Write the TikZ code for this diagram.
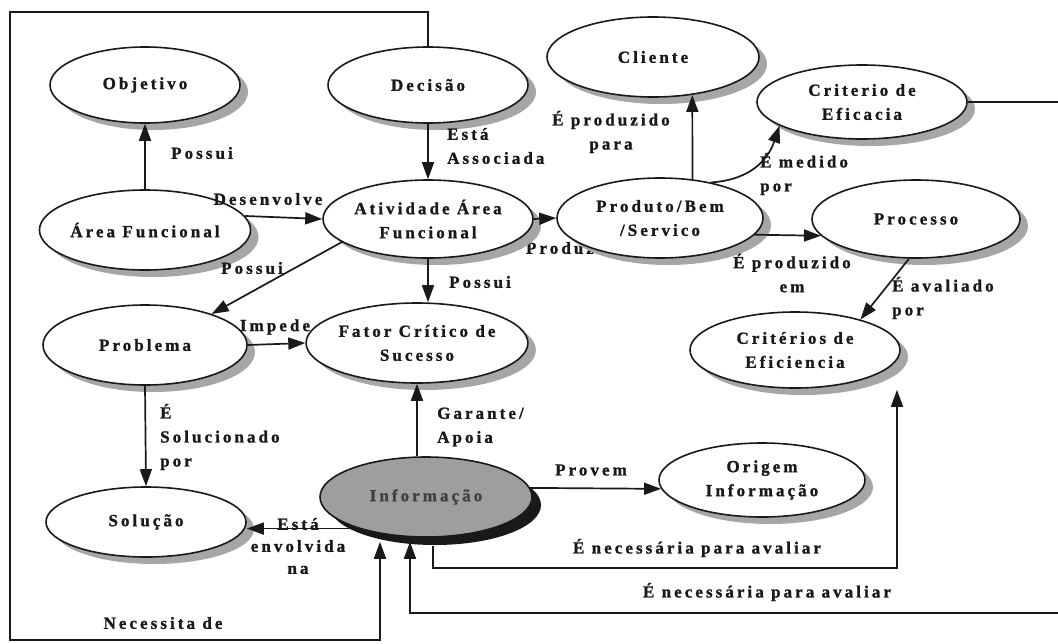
\documentclass[tikz,border=0pt]{standalone}
\usepackage{fontspec}
\newfontfamily\lbl[LetterSpace=18, BoldFeatures={FakeBold=1.2}]{Liberation Serif}
\newcommand\lblfont{\lbl\bfseries\fontsize{17}{24}\selectfont}
\usetikzlibrary{arrows.meta,shapes.geometric,shadows,calc}
\pgfdeclarelayer{bg}
\pgfsetlayers{bg,main}
\begin{document}
\begin{tikzpicture}[x=1pt,y=-1pt,
  ell/.style={ellipse, draw=black!90, line width=1.6pt, fill=white, inner sep=0pt,
    font=\lblfont, text=black!90, align=center,
    drop shadow={shadow xshift=8pt, shadow yshift=-7pt, fill=black!35, opacity=1}},
  infoell/.style={ellipse, draw=black!90, line width=1.6pt, fill=black!38, inner sep=0pt,
    font=\lblfont, text=black!75, align=center,
    drop shadow={shadow xshift=9pt, shadow yshift=-8pt, fill=black!90, opacity=1}},
  arr/.style={line width=1.7pt, draw=black!90, -{Triangle[length=17pt,width=12pt]}},
  lab/.style={font=\lblfont, text=black!90, inner sep=0pt}]
\useasboundingbox (0,0) rectangle (1058,643);
\begin{pgfonlayer}{bg}
\fill[white] (0,0) rectangle (1058,643);
\end{pgfonlayer}
\clip (0,0) rectangle (1058,643);

% nodes
\node[ell, minimum width=190pt, minimum height=76pt] (obj) at (145,85) {Objetivo};
\node[ell, minimum width=200pt, minimum height=76pt] (dec) at (428,85) {Decisão};
\node[ell, minimum width=212pt, minimum height=80pt] (cli) at (653,57) {Cliente};
\node[ell, minimum width=210pt, minimum height=74pt] (crit) at (862,102) {Criterio de\\Eficacia};
\node[ell, minimum width=196pt, minimum height=80pt] (area) at (145,230) {Área Funcional};
\node[ell, minimum width=210pt, minimum height=78pt] (ativ) at (428,219) {Atividade Área\\Funcional};
\node[ell, minimum width=206pt, minimum height=80pt] (prod) at (660,218) {Produto/Bem\\/Servico};
\node[ell, minimum width=208pt, minimum height=78pt] (proc) at (916,219) {Processo};
\node[ell, minimum width=204pt, minimum height=80pt] (prob) at (145,345) {Problema};
\node[ell, minimum width=208pt, minimum height=80pt] (fator) at (417,343) {Fator Crítico de\\Sucesso};
\node[ell, minimum width=210pt, minimum height=76pt] (ceff) at (795,350) {Critérios de\\Eficiencia};
\node[ell, minimum width=200pt, minimum height=70pt] (sol) at (146,522) {Solução};
\node[infoell, minimum width=212pt, minimum height=80pt] (info) at (426,497) {Informação};
\node[ell, minimum width=206pt, minimum height=74pt] (orig) at (762,480) {Origem\\Informação};

\coordinate (tl) at (10,12);
\coordinate (bl) at (10,640);
\coordinate (br) at (1064,613);

% connectors
\draw[arr] (area.north) -- (obj.south);
\draw[arr] (area.8) -- (ativ.west);
\draw[arr] (dec.south) -- (ativ.north);
\draw[arr] (ativ.east) -- (prod.west);
\draw[arr] (ativ.south) -- (ativ.south |- fator.north);
\draw[arr] (ativ.195) -- (prob.25);
\draw[arr] (prob.east) -- (fator.west);
\draw[arr] (prob.south) -- (sol.north);
\draw[arr] (fator.south |- info.north) -- (fator.south);
\draw[arr] (info.205) -- (info.205 -| sol.east);
\draw[arr] (info.5) -- (orig.185);
\draw[arr] (prod.50) -- (cli.316);
\draw[arr] (prod.35) .. controls (750,180) and (768,160) .. (crit.196);
\draw[arr] (prod.-10) -- (proc.190);
\draw[arr] (proc.260) -- (ceff.25);
\draw[arr] ([xshift=7pt,yshift=-8pt]info.south) -- ++(0,22) -| ([xshift=102pt,yshift=-1pt]ceff.south);
\draw[arr] (crit.east) -| (br) -| ([xshift=-16pt,yshift=-4pt]info.south);
\draw[arr] (dec.north) |- (tl) -- (bl) -| ([xshift=-46pt,yshift=-4pt]info.south);

% labels
\node[lab] (l1) at (202,153) {Possui};
\node[lab] (l2) at (268,199) {Desenvolve};
\node[lab, anchor=west, align=left] (l3) at (447,146) {Está\\Associada};
\node[lab] (l4) at (480,282) {Possui};
\node[lab] (l5) at (252,268) {Possui};
\begin{pgfonlayer}{bg}
\node[lab] (l6) at (560,248) {Produz};
\end{pgfonlayer}
\node[lab, align=center] (l7) at (611,132) {É produzido\\para};
\node[lab, anchor=west, align=left] (l8) at (760,174) {É medido\\por};
\node[lab, align=center] (l9) at (792,273) {É produzido\\em};
\node[lab, anchor=west, align=left] (l10) at (892,298) {É avaliado\\por};
\node[lab] (l11) at (275,327) {Impede};
\node[lab, anchor=west, align=left] (l12) at (160,437) {É\\Solucionado\\por};
\node[lab, anchor=west, align=left] (l13) at (437,427) {Garante/\\Apoia};
\node[lab, align=center, font=\lbl\bfseries\fontsize{17}{22}\selectfont] (l14) at (298,546) {Está\\envolvida\\na};
\node[lab] (l15) at (591,470) {Provem};
\node[lab] (l16) at (697,548) {É necessária para avaliar};
\node[lab] (l17) at (767,592) {É necessária para avaliar};
\node[lab] (l18) at (163,623) {Necessita de};
\end{tikzpicture}
\end{document}
